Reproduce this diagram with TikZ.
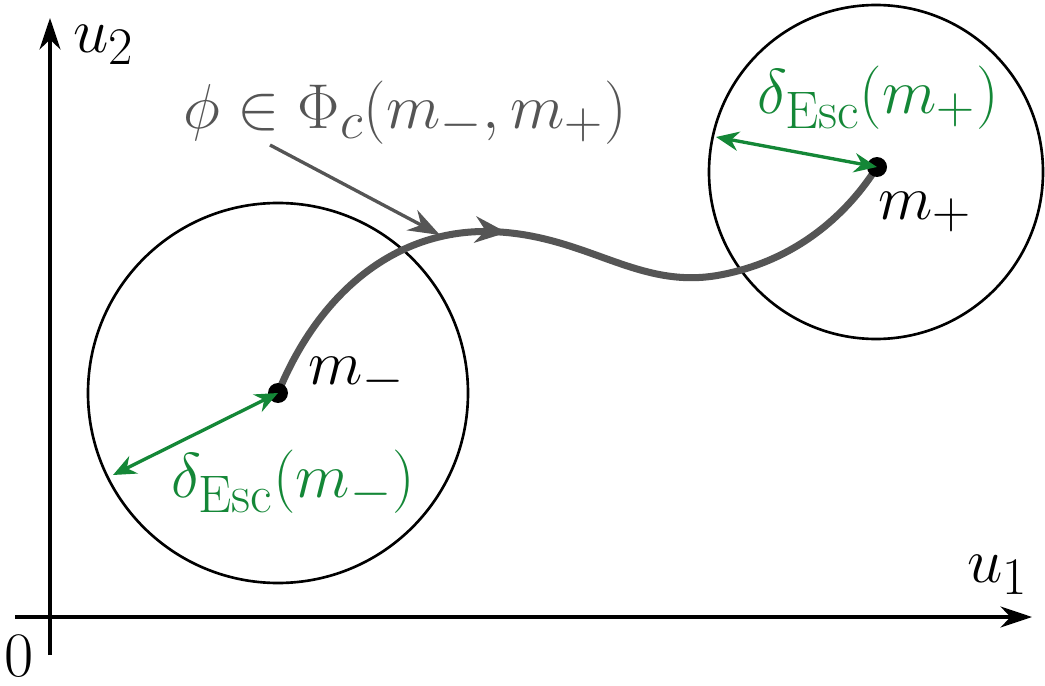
\documentclass[tikz,border=0pt]{standalone}
\usetikzlibrary{arrows.meta,decorations.markings}
\definecolor{dgray}{RGB}{85,85,85}
\definecolor{dgreen}{RGB}{20,135,55}
\begin{document}
\begin{tikzpicture}[x=0.02cm,y=-0.02cm,
  every node/.style={font=\fontsize{30}{36}\selectfont,scale=1.45},
  axis/.style={line width=1.9pt,-{Stealth[length=18pt,width=12pt]}},
  circ/.style={line width=1.5pt},
  grn/.style={dgreen,line width=1.9pt,{Stealth[length=13pt,width=11pt]}-{Stealth[length=13pt,width=11pt]}},
  path/.style={dgray,line width=4pt,postaction={decorate},decoration={markings,mark=at position 0.42 with {\arrow{Stealth[length=18pt,width=15pt]}}}}]
\useasboundingbox (0,0) rectangle (1045,686);
\coordinate (xs) at (15,617); \coordinate (xe) at (1032,617);
\coordinate (ys) at (50,655); \coordinate (ye) at (50,18);
\draw[axis] (xs) -- (xe);
\draw[axis] (ys) -- (ye);
\node (zero) at (19,656) {$0$};
\node (u2) at (104,45) {$u_2$};
\node (u1) at (998,575) {$u_1$};
\draw[circ] (278,393) circle (190);
\draw[circ] (876,172) circle (167);
\coordinate (mm) at (278,393);
\coordinate (mp) at (877,167);
\draw[path] (mm) .. controls (320,290) and (400,225) .. (500,232)
  .. controls (590,238) and (640,290) .. (720,275)
  .. controls (800,260) and (850,210) .. (mp);
\fill (mm) circle (0.2cm);
\fill (mp) circle (0.2cm);
\node (lm) at (357,378) {$m_-$};
\node (lp) at (925,212) {$m_+$};
\coordinate (gl) at (113,475);
\coordinate (gr) at (716,137);
\draw[grn] (gl) -- (mm);
\draw[grn] (gr) -- (mp);
\node[dgreen] (dl) at (293,482) {$\delta_{\mathrm{Esc}}(m_-)$};
\node[dgreen] (dr) at (878,98) {$\delta_{\mathrm{Esc}}(m_+)$};
\node[dgray] (phi) at (405,113) {$\phi\in\Phi_c(m_-,m_+)$};
\coordinate (pa) at (270,145); \coordinate (pb) at (440,235);
\draw[dgray,line width=1.9pt,-{Stealth[length=18pt,width=13pt]}] (pa) -- (pb);
\end{tikzpicture}
\end{document}
